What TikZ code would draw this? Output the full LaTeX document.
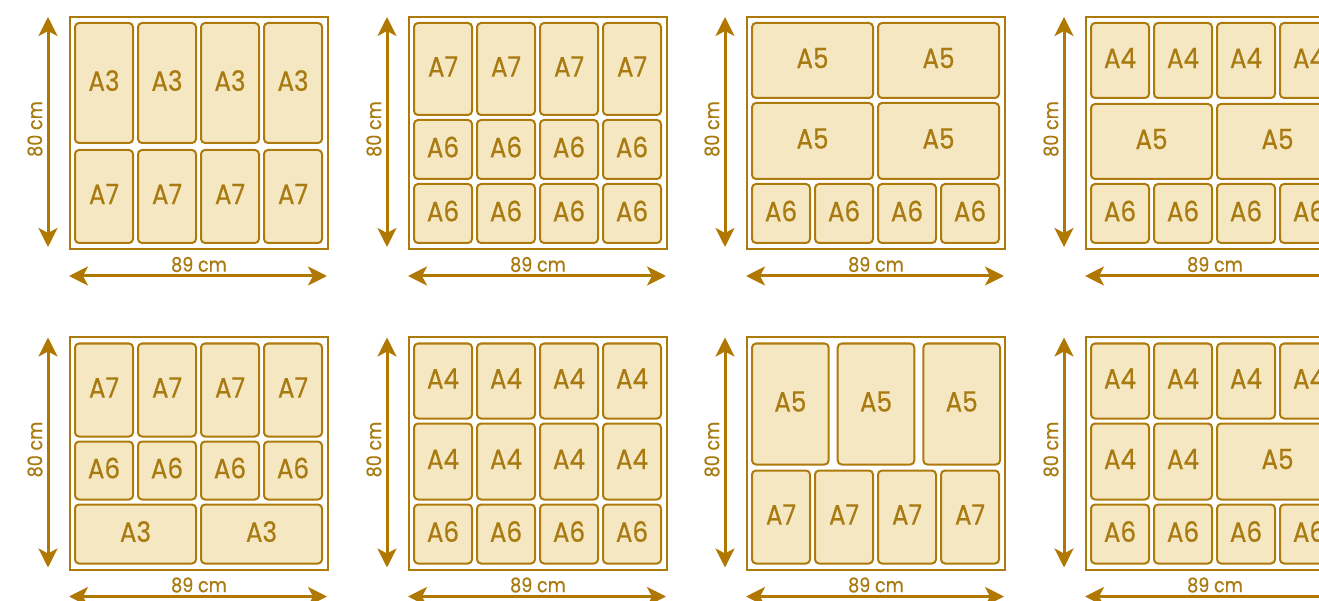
\documentclass[tikz,border=0pt]{standalone}
\usepackage{fontspec}
\newfontfamily\labelfont{Poppins}[FakeStretch=0.88, FakeBold=0.5]
\usetikzlibrary{arrows.meta}

\definecolor{goldline}{HTML}{AD7A0C}
\definecolor{goldarrow}{HTML}{B07800}
\definecolor{sheetfill}{HTML}{F5E7C2}
\definecolor{goldtext}{HTML}{A87A10}

\tikzset{
  framebox/.style={draw=goldline, line width=2pt, minimum width=258pt, minimum height=232pt,
    anchor=north west, inner sep=0pt},
  sheetbox/.style={draw=goldline, fill=sheetfill, line width=2pt, rounded corners=4pt,
    anchor=north west, inner sep=0pt, text depth=5pt, text=goldtext,
    font=\labelfont\fontsize{28}{30}\selectfont},
  dimarrow/.style={draw=goldarrow, line width=3pt,
    {Stealth[length=19pt,width=19pt,inset=5pt]}-{Stealth[length=19pt,width=19pt,inset=5pt]}},
  dimlabel/.style={text=goldtext, font=\labelfont\fontsize{20}{22}\selectfont, inner sep=0pt}
}

% one sheet: name, left, top, width, height, label
\newcommand{\sheet}[6]{\node[sheetbox, minimum width=#4pt, minimum height=#5pt] (#1) at (#2,#3) {#6};}

% drawer frame with its two dimension arrows
\newcommand{\drawer}[1]{%
  \node[framebox] (#1) at (0,0) {};
  \coordinate (#1-vt) at (-21,1);
  \coordinate (#1-vb) at (-21,231);
  \coordinate (#1-hl) at (0,260);
  \coordinate (#1-hr) at (258,260);
  \draw[dimarrow] (#1-vt) -- (#1-vb);
  \draw[dimarrow] (#1-hl) -- (#1-hr);
  \node[dimlabel, rotate=90] (#1-h) at (-34,113) {80 cm};
  \node[dimlabel] (#1-w) at (130,248.5) {89 cm};
}

\begin{document}
\begin{tikzpicture}[x=1pt, y=-1pt]
  \useasboundingbox (0,0) rectangle (1319,601);
  \clip (0,0) rectangle (1319,601);

  % top row
  \begin{scope}[shift={(69,16)}] %A3 + A7
    \drawer{p1}
    \foreach \c [count=\i] in {5,68,131,194} {
      \sheet{p1-a\i}{\c}{6}{58}{120}{A3}
      \sheet{p1-b\i}{\c}{133}{58}{93}{A7}
    }
  \end{scope}

  \begin{scope}[shift={(408,16)}] %A7 + A6 + A6
    \drawer{p2}
    \foreach \c [count=\i] in {5,68,131,194} {
      \sheet{p2-a\i}{\c}{6}{58}{92}{A7}
      \sheet{p2-b\i}{\c}{103}{58}{59}{A6}
      \sheet{p2-c\i}{\c}{167}{58}{59}{A6}
    }
  \end{scope}

  \begin{scope}[shift={(746,16)}] %A5 + A5 + A6
    \drawer{p3}
    \foreach \c [count=\i] in {5,131} {
      \sheet{p3-a\i}{\c}{6}{121}{75}{A5}
      \sheet{p3-b\i}{\c}{86}{121}{76}{A5}
    }
    \foreach \c [count=\i] in {5,68,131,194} {
      \sheet{p3-c\i}{\c}{167}{58}{59}{A6}
    }
  \end{scope}

  \begin{scope}[shift={(1085,16)}] %A4 + A5 + A6
    \drawer{p4}
    \foreach \c [count=\i] in {5,68,131,194} {
      \sheet{p4-a\i}{\c}{6}{58}{75}{A4}
      \sheet{p4-c\i}{\c}{167}{58}{59}{A6}
    }
    \foreach \c [count=\i] in {5,131} {
      \sheet{p4-b\i}{\c}{87}{121}{75}{A5}
    }
  \end{scope}

  % bottom row
  \begin{scope}[shift={(69,336.5)}] %A7 + A6 + A3
    \drawer{p5}
    \foreach \c [count=\i] in {5,68,131,194} {
      \sheet{p5-a\i}{\c}{6}{58}{93}{A7}
      \sheet{p5-b\i}{\c}{104}{58}{58}{A6}
    }
    \foreach \c [count=\i] in {5,131} {
      \sheet{p5-c\i}{\c}{167}{121}{59}{A3}
    }
  \end{scope}

  \begin{scope}[shift={(408,336.5)}] %A4 + A4 + A6
    \drawer{p6}
    \foreach \c [count=\i] in {5,68,131,194} {
      \sheet{p6-a\i}{\c}{6}{58}{75}{A4}
      \sheet{p6-b\i}{\c}{86}{58}{76}{A4}
      \sheet{p6-c\i}{\c}{167}{58}{59}{A6}
    }
  \end{scope}

  \begin{scope}[shift={(746,336.5)}] %A5 + A7
    \drawer{p7}
    \foreach \c [count=\i] in {5,90.67,176.33} {
      \sheet{p7-a\i}{\c}{6}{76.67}{121}{A5}
    }
    \foreach \c [count=\i] in {5,68,131,194} {
      \sheet{p7-b\i}{\c}{133}{58}{93}{A7}
    }
  \end{scope}

  \begin{scope}[shift={(1085,336.5)}] %A4 + A4/A5 + A6
    \drawer{p8}
    \foreach \c [count=\i] in {5,68,131,194} {
      \sheet{p8-a\i}{\c}{6}{58}{75}{A4}
      \sheet{p8-c\i}{\c}{167}{58}{59}{A6}
    }
    \sheet{p8-b1}{5}{86}{58}{76}{A4}
    \sheet{p8-b2}{68}{86}{58}{76}{A4}
    \sheet{p8-b3}{131}{86}{121}{76}{A5}
  \end{scope}
\end{tikzpicture}
\end{document}
